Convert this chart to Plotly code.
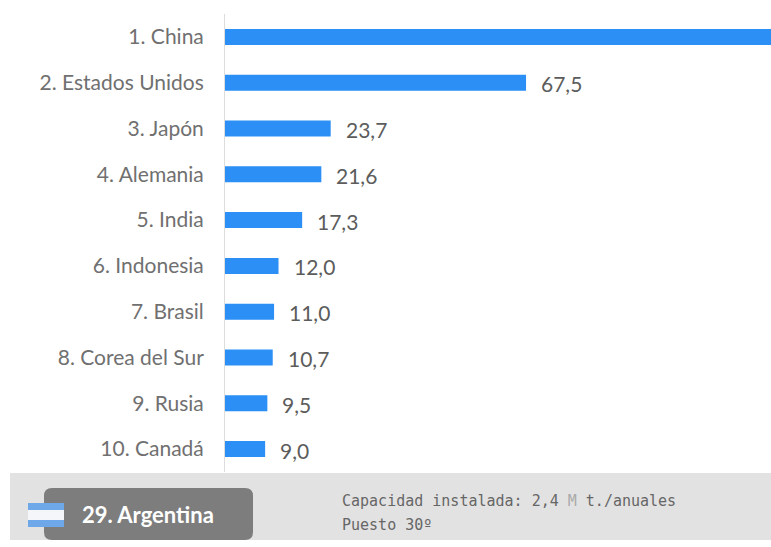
import plotly.graph_objects as go

W, H = 771, 547

countries = ["1. China", "2. Estados Unidos", "3. Japón", "4. Alemania", "5. India",
             "6. Indonesia", "7. Brasil", "8. Corea del Sur", "9. Rusia", "10. Canadá"]
# China runs past the right edge of the chart and carries no printed value
capacity = [140.0, 67.5, 23.7, 21.6, 17.3, 12.0, 11.0, 10.7, 9.5, 9.0]
value_labels = ["", "67,5", "23,7", "21,6", "17,3", "12,0", "11,0", "10,7", "9,5", "9,0"]

BAR = "#2b8ff5"
TEXT = "#707070"
FONT = "Lato, 'Open Sans', sans-serif"


def px(x):
    return x / W


def py(y):
    return 1 - y / H


def rect(x0, y0, x1, y1, color, layer="below"):
    return dict(type="rect", xref="paper", yref="paper", x0=px(x0), x1=px(x1),
                y0=py(y1), y1=py(y0), fillcolor=color, line_width=0, layer=layer)


def rounded(x0, y0, x1, y1, r, color):
    a, b, c, d = px(x0), px(x1), py(y0), py(y1)
    rx, ry = r / W, r / H
    path = (f"M{a + rx},{c} L{b - rx},{c} Q{b},{c} {b},{c - ry} L{b},{d + ry} Q{b},{d} {b - rx},{d} "
            f"L{a + rx},{d} Q{a},{d} {a},{d + ry} L{a},{c - ry} Q{a},{c} {a + rx},{c} Z")
    return dict(type="path", xref="paper", yref="paper", path=path, fillcolor=color,
                line_width=0, layer="above")


fig = go.Figure(go.Bar(
    x=capacity, y=countries, orientation="h",
    marker=dict(color=BAR, line_width=0), width=0.35,
))

shapes = [
    rect(10, 473, 771, 540, "#e3e2e2"),
    rounded(44, 488, 253, 540, 8, "#7d7d7d"),
    rect(28, 503, 64, 510, "#6fa8e8", "above"),
    rect(28, 510, 64, 520, "#f4f6fa", "above"),
    rect(28, 520, 64, 527, "#6fa8e8", "above"),
]

annotations = [
    dict(x=v, y=c, text=t, xref="x", yref="y", xanchor="left", yanchor="middle",
         xshift=13, yshift=-1, showarrow=False,
         font=dict(family=FONT, size=21, color="#5c5c5c"))
    for v, c, t in zip(capacity, countries, value_labels) if t
]
annotations += [
    dict(x=px(80), y=py(514), xref="paper", yref="paper", xanchor="left", yanchor="middle",
         showarrow=False, text="<b>29. Argentina</b>",
         font=dict(family=FONT, size=22, color="white")),
    dict(x=px(340), y=py(501), xref="paper", yref="paper", xanchor="left", yanchor="middle",
         showarrow=False,
         text="Capacidad instalada: 2,4 <span style='color:#aaaaaa'>M</span> t./anuales",
         font=dict(family="DejaVu Sans Mono", size=15, color="#666666")),
    dict(x=px(340), y=py(525), xref="paper", yref="paper", xanchor="left", yanchor="middle",
         showarrow=False, text="Puesto 30º",
         font=dict(family="DejaVu Sans Mono", size=15, color="#666666")),
]

fig.update_layout(
    width=W, height=H, margin=dict(l=0, r=0, t=0, b=0),
    paper_bgcolor="white", plot_bgcolor="white", showlegend=False,
    shapes=shapes, annotations=annotations,
    xaxis=dict(domain=[px(225), 1], range=[0, 546 / 4.46], visible=False),
    yaxis=dict(domain=[py(472), py(14)], autorange="reversed", ticks="", showgrid=False,
               showline=True, linecolor="#dddddd", linewidth=1, anchor="x",
               tickfont=dict(family=FONT, size=21, color=TEXT), ticklabelstandoff=16),
)

fig.write_html("out.html")
